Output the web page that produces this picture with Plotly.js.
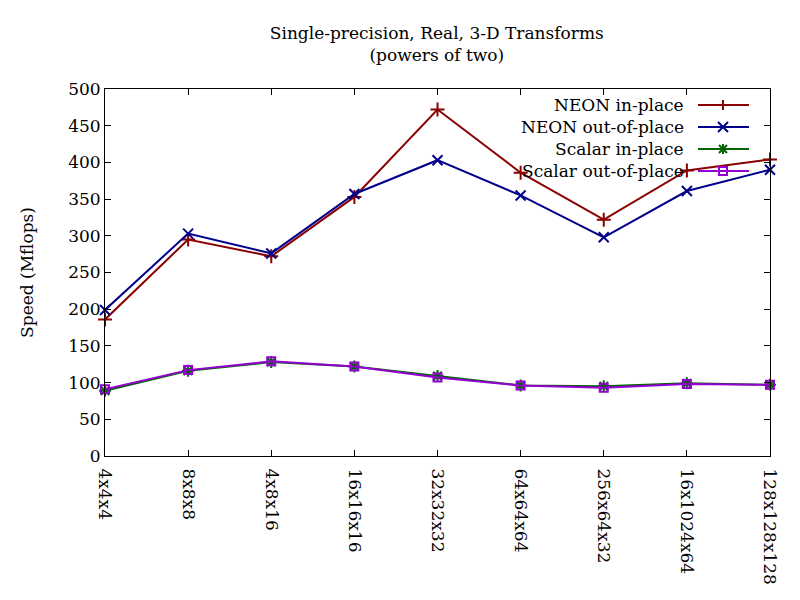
<!DOCTYPE html>
<html>
<head>
    <meta charset="UTF-8">
    <title>Single-precision, Real, 3-D Transforms</title>
    <script src="https://cdn.plot.ly/plotly-3.0.1.min.js"></script>
    <style>
        body { margin: 0; background: #fff; }
        #chart { width: 800px; height: 600px; }
    </style>
</head>
<body>
    <div id="chart"></div>
    <script>
        // transform sizes
        const sizes = ['4x4x4', '8x8x8', '4x8x16', '16x16x16', '32x32x32', '64x64x64', '256x64x32', '16x1024x64', '128x128x128'];

        // speed in Mflops
        const neonInPlace = [186, 295, 272, 353, 472, 386, 322, 389, 404];
        const neonOutOfPlace = [199, 303, 276, 357, 403, 355, 298, 361, 390];
        const scalarInPlace = [89, 116, 128, 122, 109, 96, 95, 99, 97];
        const scalarOutOfPlace = [91, 117, 129, 122, 107, 96, 93, 98, 97];

        const seriesNames = ['NEON in-place', 'NEON out-of-place', 'Scalar in-place', 'Scalar out-of-place'];

        const FONT = 'DejaVu Serif, Liberation Serif, serif';
        const FS = 17;
        const colors = ['#8b0000', '#00008b', '#006400', '#9400d3'];
        const symbols = ['cross-thin-open', 'x-thin-open', 'asterisk-open', 'square-open'];
        const values = [neonInPlace, neonOutOfPlace, scalarInPlace, scalarOutOfPlace];

        const traces = values.map((v, i) => ({
            x: sizes,
            y: v,
            name: seriesNames[i],
            type: 'scatter',
            mode: 'lines+markers',
            cliponaxis: false,
            line: { color: colors[i], width: 2 },
            marker: { symbol: symbols[i], size: i === 3 ? 8 : 10, color: colors[i], line: { color: colors[i], width: 2 } },
            showlegend: false
        }));

        // plot area in pixels
        const L = 105, R = 770, T = 89, B = 456;
        const px = x => (x - L) / (R - L);
        const py = y => (B - y) / (B - T);

        // gnuplot-style key: text right aligned, sample on the right
        const annotations = [];
        const shapes = [];
        const keyTextX = 686, keyLineX0 = 698, keyLineX1 = 749, keyMarkX = 723;
        const keyRows = [105, 127, 149, 171];
        const markPaths = [
            'M-5,0 L5,0 M0,-5 L0,5',
            'M-5,-5 L5,5 M-5,5 L5,-5',
            'M-5,0 L5,0 M0,-5 L0,5 M-4,-4 L4,4 M-4,4 L4,-4',
            'M-4,-4 L4,-4 L4,4 L-4,4 Z'
        ];
        seriesNames.forEach((name, i) => {
            annotations.push({
                xref: 'paper', yref: 'paper', x: px(keyTextX), y: py(keyRows[i]),
                xanchor: 'right', yanchor: 'middle', showarrow: false,
                text: name, font: { family: FONT, size: FS, color: '#000' }
            });
            shapes.push({
                type: 'line', xref: 'paper', yref: 'paper',
                x0: px(keyLineX0), x1: px(keyLineX1), y0: py(keyRows[i]), y1: py(keyRows[i]),
                line: { color: colors[i], width: 2 }
            });
            shapes.push({
                type: 'path', xref: 'paper', yref: 'paper',
                xsizemode: 'pixel', ysizemode: 'pixel',
                xanchor: px(keyMarkX), yanchor: py(keyRows[i]),
                path: markPaths[i],
                line: { color: colors[i], width: 2 }
            });
        });

        const layout = {
            width: 800,
            height: 600,
            margin: { l: L, r: 800 - R, t: T, b: 600 - B },
            paper_bgcolor: '#fff',
            plot_bgcolor: '#fff',
            font: { family: FONT, size: FS, color: '#000' },
            title: {
                text: 'Single-precision, Real, 3-D Transforms<br>(powers of two)',
                font: { family: FONT, size: FS, color: '#000' },
                x: 0.546, xanchor: 'center', y: 0.935, yanchor: 'top'
            },
            xaxis: {
                type: 'category',
                range: [0, sizes.length - 1],
                tickangle: 90,
                ticks: 'inside', ticklen: 6, tickcolor: '#000',
                ticklabelstandoff: 8,
                showline: true, linecolor: '#000', linewidth: 1, mirror: 'ticks',
                showgrid: false, zeroline: false,
                tickfont: { family: FONT, size: FS, color: '#000' }
            },
            yaxis: {
                range: [0, 500],
                dtick: 50,
                ticks: 'inside', ticklen: 6, tickcolor: '#000',
                showline: true, linecolor: '#000', linewidth: 1, mirror: 'ticks',
                showgrid: false, zeroline: false,
                tickfont: { family: FONT, size: FS, color: '#000' },
                title: { text: 'Speed (Mflops)', font: { family: FONT, size: FS, color: '#000' }, standoff: 30 }
            },
            annotations: annotations,
            shapes: shapes
        };

        Plotly.newPlot('chart', traces, layout, { staticPlot: true });
    </script>
</body>
</html>
